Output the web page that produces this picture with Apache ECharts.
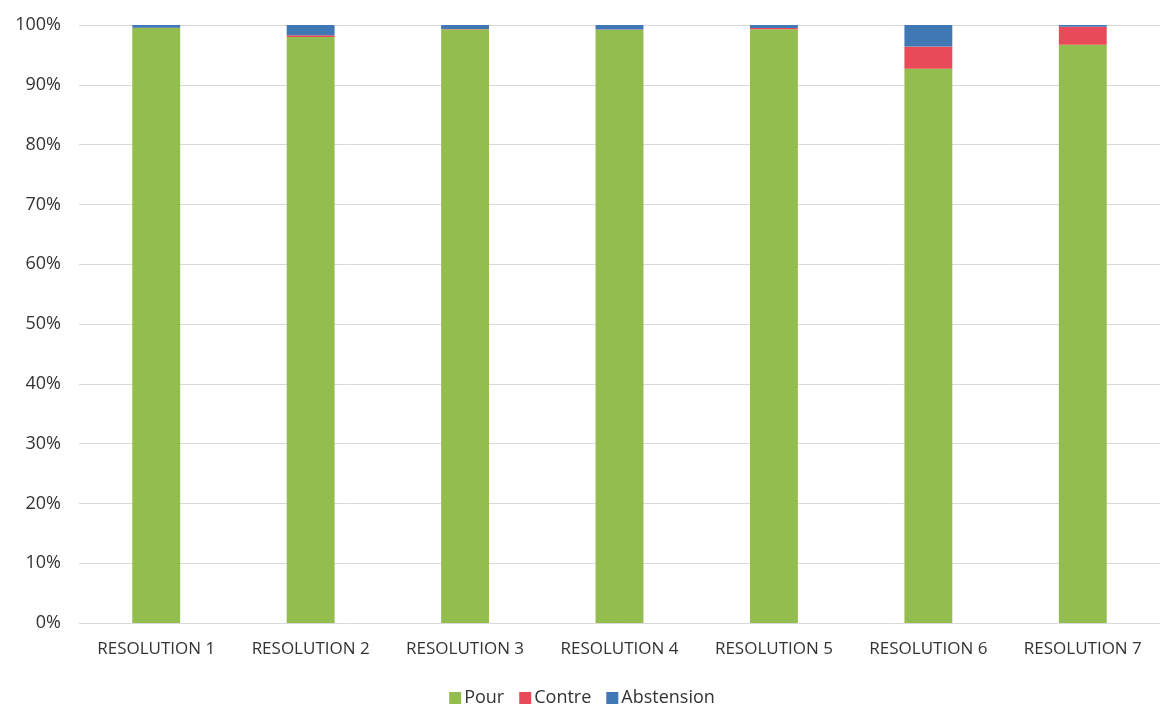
<!DOCTYPE html>
<html><head><meta charset="utf-8">
<script src="https://cdn.jsdelivr.net/npm/echarts@6/dist/echarts.min.js"></script>
<style>html,body{margin:0;padding:0;background:#fff}#c{width:1164px;height:710px}</style>
</head><body><div id="c"></div>
<script>
const categories = ['RESOLUTION 1','RESOLUTION 2','RESOLUTION 3','RESOLUTION 4','RESOLUTION 5','RESOLUTION 6','RESOLUTION 7'];
const pour = [99.5, 98.0, 99.3, 99.2, 99.3, 92.7, 96.7];
const contre = [0.05, 0.3, 0.05, 0.05, 0.2, 3.7, 3.0];
const abstension = [0.45, 1.7, 0.65, 0.75, 0.5, 3.6, 0.3];
const yTicks = [0,10,20,30,40,50,60,70,80,90,100];

const chart = echarts.init(document.getElementById('c'));
const font = 'Open Sans';
chart.setOption({
  backgroundColor: '#fff',
  animation: false,
  grid: {left: 79, right: 4, top: 25, bottom: 87, containLabel: false},
  legend: {
    bottom: -2, left: 'center', itemWidth: 12, itemHeight: 12, itemGap: 15,
    icon: 'rect',
    textStyle: {fontFamily: font, fontSize: 18, color: '#333', padding: [0,0,0,-2]},
    data: ['Pour','Contre','Abstension']
  },
  xAxis: {
    type: 'category', data: categories,
    axisLine: {show: false}, axisTick: {show: false},
    axisLabel: {fontFamily: font, fontSize: 17, color: '#333', margin: 18}
  },
  yAxis: {
    type: 'value', min: 0, max: 100, interval: 10,
    axisLabel: {fontFamily: font, fontSize: 18, color: '#333', margin: 18,
      formatter: v => yTicks.includes(v) ? v + '%' : ''},
    splitLine: {lineStyle: {color: '#d9d9d9'}},
    axisLine: {show: false}, axisTick: {show: false}
  },
  series: [
    {name: 'Pour', type: 'bar', stack: 't', data: pour, barWidth: '31%', itemStyle: {color: '#93bd4f'}},
    {name: 'Contre', type: 'bar', stack: 't', data: contre, itemStyle: {color: '#e84a59'}},
    {name: 'Abstension', type: 'bar', stack: 't', data: abstension, itemStyle: {color: '#3f78b5'}}
  ]
});
</script></body></html>
